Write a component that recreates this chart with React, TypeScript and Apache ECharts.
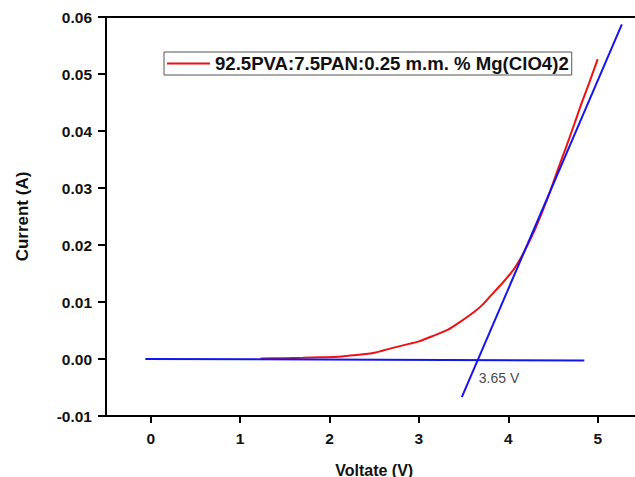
import React, { useEffect, useRef } from "react";
import * as echarts from "echarts";

const seriesName = "92.5PVA:7.5PAN:0.25 m.m. % Mg(ClO4)2";

const voltage = [1.23, 1.5, 1.7, 1.9, 2.1, 2.3, 2.5, 2.72, 2.9, 3.0, 3.15, 3.32, 3.47, 3.62, 3.71, 3.78, 3.95, 4.05, 4.12, 4.18, 4.3, 4.44, 4.56, 4.65, 4.74, 4.82, 4.904, 5.0];
const current = [0.0001, 0.00015, 0.0002, 0.0003, 0.0004, 0.0007, 0.0011, 0.002, 0.0027, 0.0031, 0.004, 0.0051, 0.0066, 0.0083, 0.0095, 0.0107, 0.0136, 0.0155, 0.0172, 0.0189, 0.0228, 0.0282, 0.0335, 0.0373, 0.0413, 0.0449, 0.0484, 0.0526];

const baselineV = [-0.06, 4.85];
const baselineI = [0.0, -0.00025];

const tangentV = [3.48, 5.27];
const tangentI = [-0.0067, 0.0587];

const annotationText = "3.65 V";
const annotationPoint = [3.67, -0.0033];

const yTicks = { min: -0.01, max: 0.06, interval: 0.01 };
const xRange = { min: -0.5, max: 5.5 };

const FONT = "'Liberation Sans', Arial, sans-serif";

export default function App() {
  const ref = useRef<HTMLDivElement>(null);
  useEffect(() => {
    if (!ref.current) return;
    const chart = echarts.init(ref.current, null, { renderer: "svg" });
    const zip = (a: number[], b: number[]) => a.map((v, i) => [v, b[i]]);
    chart.setOption({
      animation: false,
      backgroundColor: "#ffffff",
      grid: { left: 106, top: 17, bottom: 61, right: -7.4, containLabel: false, outerBoundsMode: "none" },
      legend: {
        data: [seriesName],
        left: 164,
        top: 52,
        orient: "horizontal",
        icon: "rect",
        borderColor: "#555",
        borderWidth: 1,
        borderRadius: 0,
        padding: [2, 3, 2, 3],
        itemWidth: 43,
        itemHeight: 2,
        itemGap: 4,
        textStyle: { fontFamily: FONT, fontWeight: "bold", fontSize: 18.6, color: "#111" },
      },
      xAxis: [
        {
          type: "value",
          min: xRange.min,
          max: xRange.max,
          name: "Voltate (V)",
          nameLocation: "middle",
          nameGap: 46,
          nameTextStyle: { fontFamily: FONT, fontWeight: "bold", fontSize: 16, color: "#111" },
          axisLine: { show: true, onZero: false, lineStyle: { color: "#000", width: 2 } },
          axisTick: { show: true, inside: false, length: 7, lineStyle: { color: "#000", width: 2 } },
          axisLabel: {
            margin: 14,
            fontFamily: FONT,
            fontWeight: "bold",
            fontSize: 15.5,
            color: "#111",
            showMinLabel: false,
            showMaxLabel: false,
            formatter: (v: number) => (Math.abs(v - Math.round(v)) < 1e-9 ? String(Math.round(v)) : ""),
          },
          splitLine: { show: false },
        },
        {
          type: "value",
          position: "top",
          min: xRange.min,
          max: xRange.max,
          axisLine: { show: true, onZero: false, lineStyle: { color: "#000", width: 2 } },
          axisTick: { show: false },
          axisLabel: { show: false },
          splitLine: { show: false },
        },
      ],
      yAxis: {
        type: "value",
        min: yTicks.min,
        max: yTicks.max,
        interval: yTicks.interval,
        name: "Current (A)",
        nameLocation: "middle",
        nameGap: 75,
        nameTextStyle: { fontFamily: FONT, fontWeight: "bold", fontSize: 17, color: "#111" },
        axisLine: { show: true, onZero: false, lineStyle: { color: "#000", width: 2 } },
        axisTick: { show: true, inside: false, length: 8, lineStyle: { color: "#000", width: 2 } },
        axisLabel: {
          margin: 14,
          fontFamily: FONT,
          fontWeight: "bold",
          fontSize: 15.5,
          color: "#111",
          formatter: (v: number) => v.toFixed(2),
        },
        splitLine: { show: false },
      },
      series: [
        {
          name: seriesName,
          type: "line",
          data: zip(voltage, current),
          symbol: "none",
          smooth: 0.2,
          lineStyle: { color: "#ee1111", width: 2 },
          itemStyle: { color: "#ee1111" },
        },
        {
          name: "baseline",
          type: "line",
          data: zip(baselineV, baselineI),
          symbol: "none",
          lineStyle: { color: "#1414ee", width: 2 },
        },
        {
          name: "tangent",
          type: "line",
          data: zip(tangentV, tangentI),
          symbol: "none",
          lineStyle: { color: "#1414ee", width: 2 },
        },
        {
          name: "annotation",
          type: "scatter",
          data: [annotationPoint],
          symbolSize: 0,
          silent: true,
          label: {
            show: true,
            position: "right",
            distance: 0,
            formatter: annotationText,
            fontFamily: FONT,
            fontSize: 14,
            color: "#111",
          },
        },
      ],
    });
    return () => chart.dispose();
  }, []);
  return <div ref={ref} style={{ position: "fixed", left: 0, top: 0, width: 635, height: 477 }} />;
}
